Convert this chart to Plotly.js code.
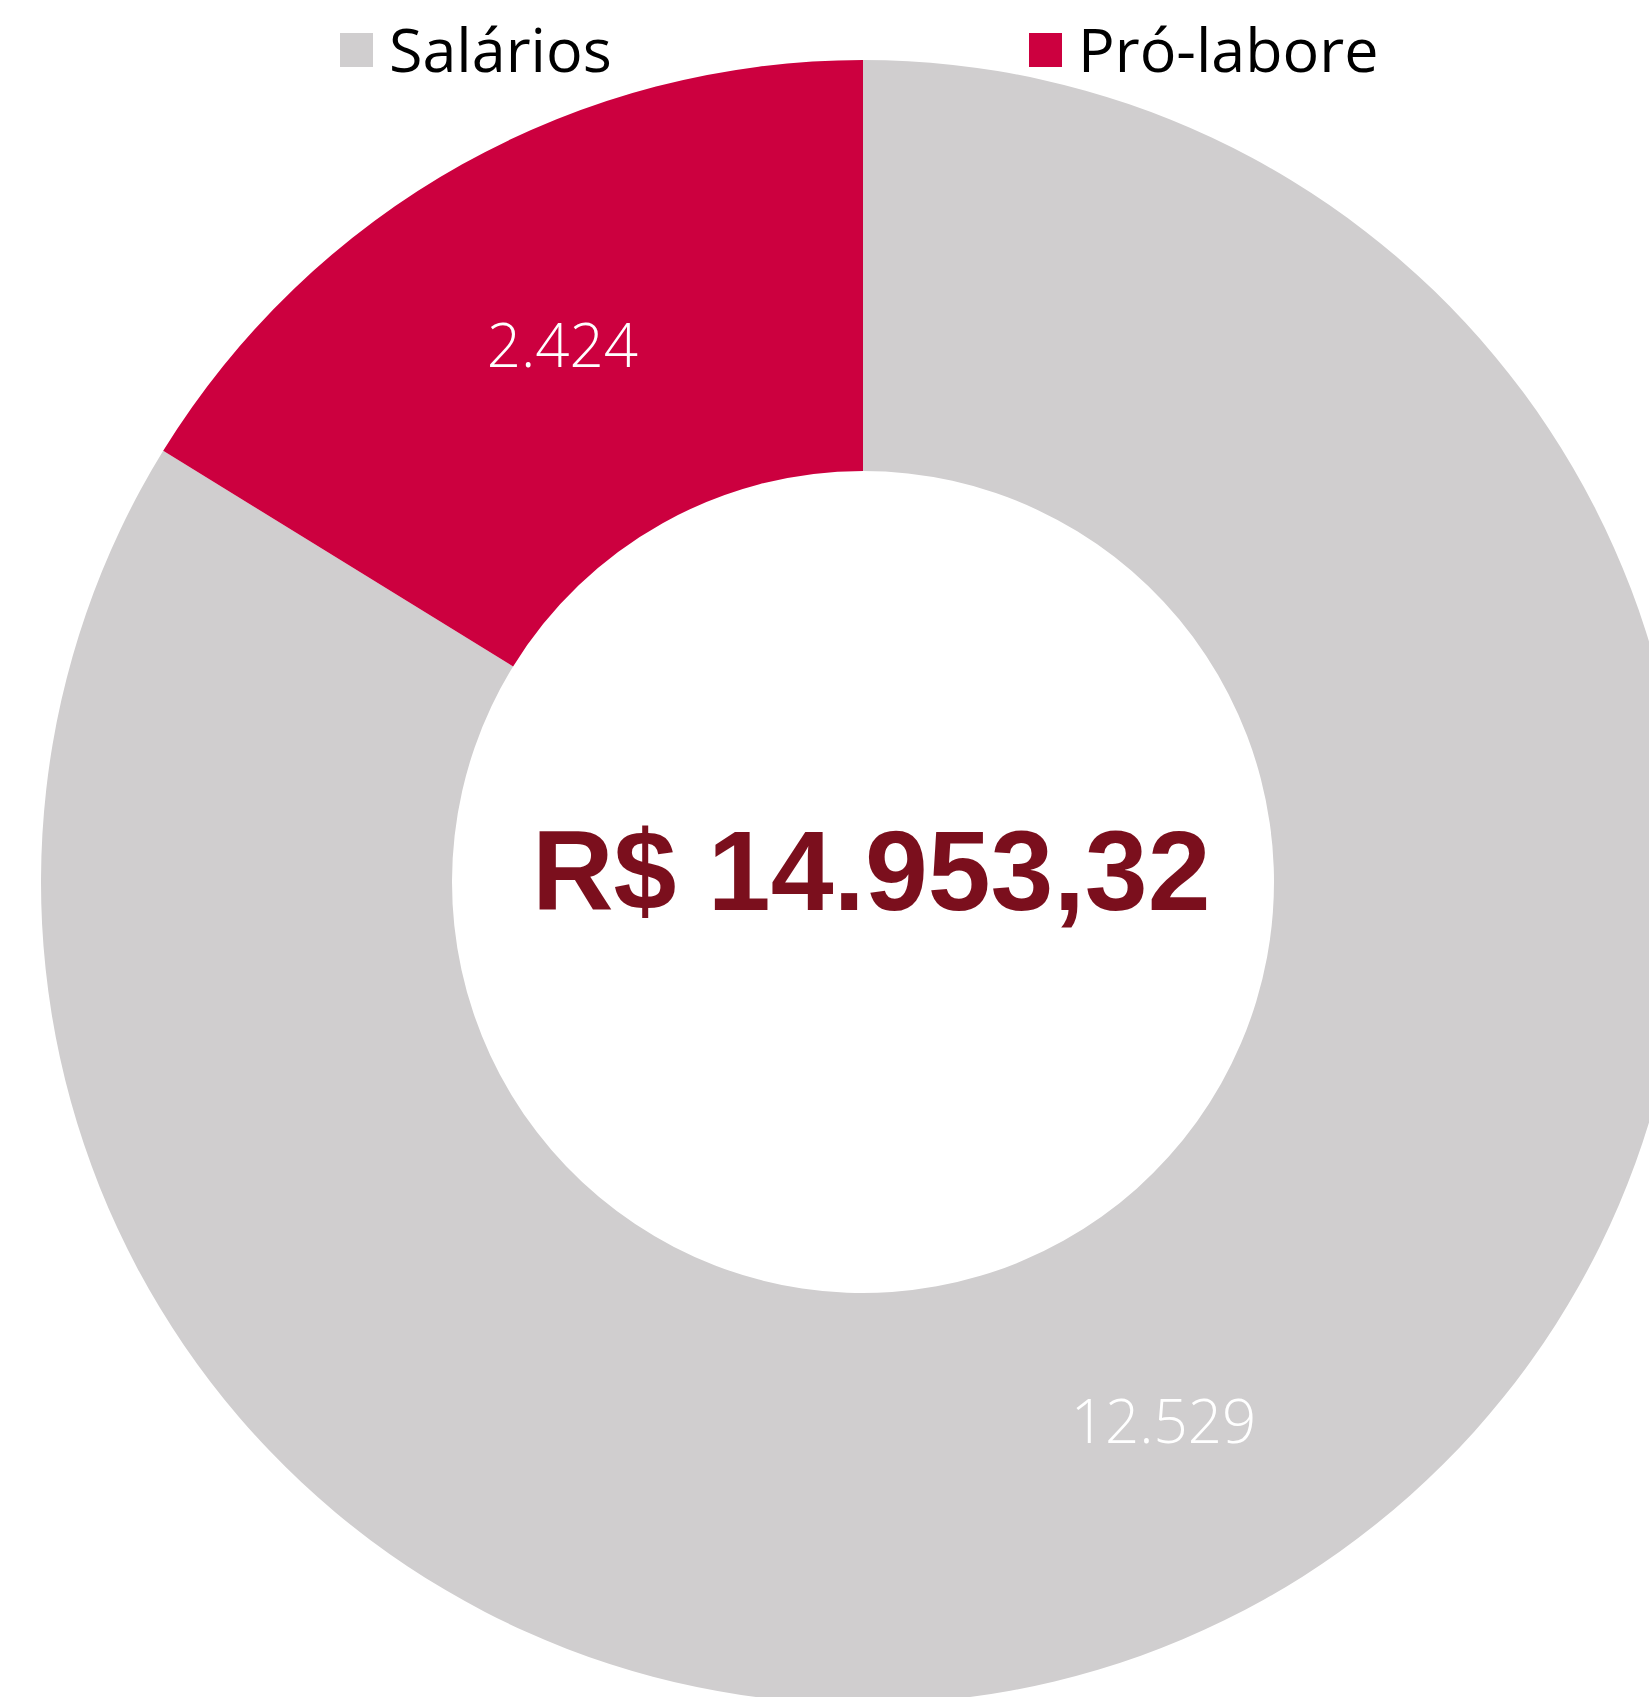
<!DOCTYPE html>
<html>
<head>
<meta charset="utf-8">
<script src="https://cdn.plot.ly/plotly-3.0.1.min.js"></script>
<style>
  html, body { margin: 0; padding: 0; width: 1649px; height: 1697px; overflow: hidden; background: #ffffff; }
  #chart { width: 1740px; height: 1740px; }
</style>
</head>
<body>
<div id="chart"></div>
<script>
// ---- data ----
const categories = ['Salários', 'Pró-labore'];
const values = [12529, 2424];
const colors = ['#d0cecf', '#cc003f'];
const totalText = 'R$ 14.953,32';

// ---- layout helpers (pixel -> paper) ----
const W = 1740, H = 1740;
const px = x => x / W;
const py = y => 1 - y / H;

const cx = 863, cy = 882, R = 822;

const trace = {
  type: 'pie',
  labels: categories,
  values: values,
  marker: { colors: colors, line: { width: 0 } },
  hole: 0.5,
  sort: false,
  direction: 'clockwise',
  rotation: 0,
  textinfo: 'value',
  texttemplate: '%{value:,}',
  textposition: 'inside',
  insidetextorientation: 'horizontal',
  insidetextfont: { family: 'Open Sans, Noto Sans, sans-serif', size: 60, color: '#ffffff', weight: 300 },
  hoverinfo: 'label+value',
  showlegend: false,
  domain: { x: [px(cx - R), px(cx + R)], y: [py(cy + R), py(cy - R)] }
};

const shapes = [];
const annotations = [];
const legendX = [340, 1029];
categories.forEach((c, i) => {
  const x0 = legendX[i];
  shapes.push({
    type: 'rect', xref: 'paper', yref: 'paper',
    x0: px(x0), x1: px(x0 + 33), y0: py(67), y1: py(33),
    fillcolor: colors[i], line: { width: 0 }
  });
  annotations.push({
    xref: 'paper', yref: 'paper', x: px(x0 + 47), y: py(48),
    xanchor: 'left', yanchor: 'middle', showarrow: false,
    text: c,
    font: { family: 'Open Sans, Noto Sans, sans-serif', size: 61, color: '#000000' }
  });
});

annotations.push({
  xref: 'paper', yref: 'paper', x: px(871), y: py(871),
  xanchor: 'center', yanchor: 'middle', showarrow: false,
  text: totalText,
  font: { family: 'Liberation Sans Narrow, Liberation Sans, sans-serif', size: 113, color: '#7b0f1d', weight: 700 }
});

const layout = {
  width: W, height: H,
  margin: { l: 0, r: 0, t: 0, b: 0 },
  paper_bgcolor: '#ffffff',
  separators: ',.',
  showlegend: false,
  shapes: shapes,
  annotations: annotations
};

Plotly.newPlot('chart', [trace], layout, { displayModeBar: false, staticPlot: true });
</script>
</body>
</html>
